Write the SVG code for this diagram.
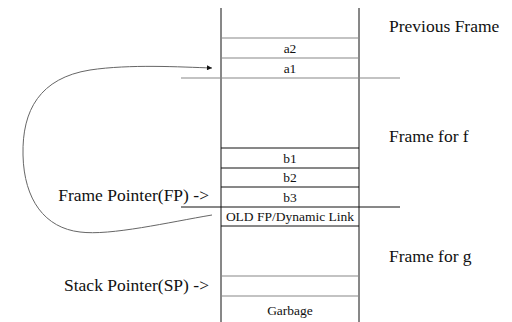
<svg xmlns="http://www.w3.org/2000/svg" width="512" height="322" viewBox="0 0 512 322">
<style>
text{font-family:"Liberation Serif","DejaVu Serif","Times New Roman",serif;fill:#111}
.c{font-size:13.5px;text-anchor:middle}
.l{font-size:17.5px}
.r{font-size:17.5px;text-anchor:end}
.k{stroke:#111;stroke-width:1;fill:none}
.g{stroke:#888;stroke-width:1.2;fill:none}
</style>
<defs>
<marker id="ah" viewBox="0 0 10 10" refX="10" refY="5" markerWidth="8" markerHeight="5" orient="auto" markerUnits="userSpaceOnUse">
<path d="M0,0 L10,5 L0,10 z" fill="#111"/>
</marker>
</defs>
<g id="stack">
<line class="k" x1="221" y1="8" x2="221" y2="322"/>
<line class="k" x1="359" y1="8" x2="359" y2="322"/>
</g>
<g id="a2"><line class="g" x1="221" y1="38" x2="359" y2="38"/><text class="c" x="290" y="53">a2</text></g>
<g id="a1"><line class="g" x1="221" y1="58" x2="359" y2="58"/><text class="c" x="290" y="73">a1</text></g>
<g id="sep1"><line class="g" x1="181" y1="78" x2="400" y2="78"/></g>
<g id="b1"><line class="k" x1="221" y1="148" x2="359" y2="148"/><text class="c" x="290" y="163">b1</text></g>
<g id="b2"><line class="k" x1="221" y1="168" x2="359" y2="168"/><text class="c" x="290" y="182">b2</text></g>
<g id="b3"><line class="k" x1="221" y1="187" x2="359" y2="187"/><text class="c" x="290" y="202">b3</text></g>
<g id="sep2"><line class="k" x1="181" y1="207" x2="400" y2="207"/></g>
<g id="oldfp"><line class="k" x1="221" y1="226" x2="359" y2="226"/><text class="c" x="290" y="221">OLD FP/Dynamic Link</text></g>
<g id="sp"><line class="g" x1="221" y1="276" x2="359" y2="276"/><line class="g" x1="221" y1="296" x2="359" y2="296"/></g>
<g id="garbage"><text class="c" x="290" y="315">Garbage</text></g>
<g id="labels">
<text class="l" x="389" y="32">Previous Frame</text>
<text class="l" x="389" y="142">Frame for f</text>
<text class="l" x="389" y="262">Frame for g</text>
<text class="r" x="209" y="201">Frame Pointer(FP) -&gt;</text>
<text class="r" x="209" y="291">Stack Pointer(SP) -&gt;</text>
</g>
<g id="connectors">
<path d="M212,215 C170,222 110,236 80,232 C45,228 24,200 23,155 C22,110 40,78 90,70 C130,64 180,67 212,68" fill="none" stroke="#666" stroke-width="1" marker-end="url(#ah)"/>
</g>
</svg>
